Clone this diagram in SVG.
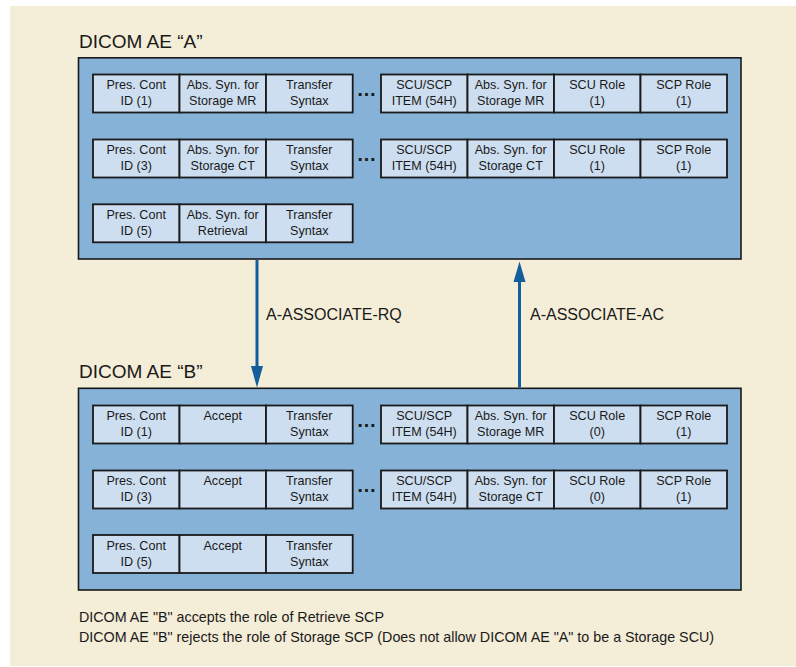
<svg xmlns="http://www.w3.org/2000/svg" width="796" height="667" viewBox="0 0 796 667">
<style>
text{font-family:"Liberation Sans",Arial,Helvetica,sans-serif;fill:#1a1a1a}
.bg{fill:#F4EDD7}
.box{fill:#86B2D8;stroke:#1a1a1a;stroke-width:1.6}
.cell{fill:#CDDEF0;stroke:#1a1a1a;stroke-width:1.8}
.ct{font-size:12.6px;text-anchor:middle}
.title{font-size:19px}
.lbl{font-size:16px}
.foot{font-size:14.3px}
.dots{font-size:20px;font-weight:bold;text-anchor:middle}
.arr{stroke:#155E9C;stroke-width:3;fill:none}
.ah{fill:#155E9C}
</style>
<rect class="bg" x="10" y="6" width="786" height="660"/>

<g id="ae-a">
<text class="title" x="79" y="47.5">DICOM AE “A”</text>
<rect class="box" x="78.5" y="57.8" width="662.5" height="201.2"/>
</g>
<g id="a-row1">
<rect class="cell" x="93" y="74.5" width="86.5" height="38"/>
<rect class="cell" x="179.5" y="74.5" width="86.5" height="38"/>
<rect class="cell" x="266" y="74.5" width="86.7" height="38"/>
<text class="ct" x="136.2" y="89">Pres. Cont</text><text class="ct" x="136.2" y="105">ID (1)</text>
<text class="ct" x="222.7" y="89">Abs. Syn. for</text><text class="ct" x="222.7" y="105">Storage MR</text>
<text class="ct" x="309.3" y="89">Transfer</text><text class="ct" x="309.3" y="105">Syntax</text>
<text class="dots" x="366.5" y="95.5">…</text>
<rect class="cell" x="381" y="74.5" width="86.5" height="38"/>
<rect class="cell" x="467.5" y="74.5" width="86.5" height="38"/>
<rect class="cell" x="554" y="74.5" width="86.5" height="38"/>
<rect class="cell" x="640.5" y="74.5" width="86.5" height="38"/>
<text class="ct" x="424.2" y="89">SCU/SCP</text><text class="ct" x="424.2" y="105">ITEM (54H)</text>
<text class="ct" x="510.7" y="89">Abs. Syn. for</text><text class="ct" x="510.7" y="105">Storage MR</text>
<text class="ct" x="597.2" y="89">SCU Role</text><text class="ct" x="597.2" y="105">(1)</text>
<text class="ct" x="683.7" y="89">SCP Role</text><text class="ct" x="683.7" y="105">(1)</text>
</g>
<g id="a-row2">
<rect class="cell" x="93" y="139.5" width="86.5" height="38"/>
<rect class="cell" x="179.5" y="139.5" width="86.5" height="38"/>
<rect class="cell" x="266" y="139.5" width="86.7" height="38"/>
<text class="ct" x="136.2" y="154">Pres. Cont</text><text class="ct" x="136.2" y="170">ID (3)</text>
<text class="ct" x="222.7" y="154">Abs. Syn. for</text><text class="ct" x="222.7" y="170">Storage CT</text>
<text class="ct" x="309.3" y="154">Transfer</text><text class="ct" x="309.3" y="170">Syntax</text>
<text class="dots" x="366.5" y="160.5">…</text>
<rect class="cell" x="381" y="139.5" width="86.5" height="38"/>
<rect class="cell" x="467.5" y="139.5" width="86.5" height="38"/>
<rect class="cell" x="554" y="139.5" width="86.5" height="38"/>
<rect class="cell" x="640.5" y="139.5" width="86.5" height="38"/>
<text class="ct" x="424.2" y="154">SCU/SCP</text><text class="ct" x="424.2" y="170">ITEM (54H)</text>
<text class="ct" x="510.7" y="154">Abs. Syn. for</text><text class="ct" x="510.7" y="170">Storage CT</text>
<text class="ct" x="597.2" y="154">SCU Role</text><text class="ct" x="597.2" y="170">(1)</text>
<text class="ct" x="683.7" y="154">SCP Role</text><text class="ct" x="683.7" y="170">(1)</text>
</g>
<g id="a-row3">
<rect class="cell" x="93" y="204.3" width="86.5" height="38"/>
<rect class="cell" x="179.5" y="204.3" width="86.5" height="38"/>
<rect class="cell" x="266" y="204.3" width="86.7" height="38"/>
<text class="ct" x="136.2" y="218.8">Pres. Cont</text><text class="ct" x="136.2" y="234.8">ID (5)</text>
<text class="ct" x="222.7" y="218.8">Abs. Syn. for</text><text class="ct" x="222.7" y="234.8">Retrieval</text>
<text class="ct" x="309.3" y="218.8">Transfer</text><text class="ct" x="309.3" y="234.8">Syntax</text>
</g>

<g id="ae-b">
<text class="title" x="79" y="378">DICOM AE “B”</text>
<rect class="box" x="78.5" y="388.3" width="662.5" height="201.7"/>
</g>
<g id="b-row1">
<rect class="cell" x="93" y="405.5" width="86.5" height="38"/>
<rect class="cell" x="179.5" y="405.5" width="86.5" height="38"/>
<rect class="cell" x="266" y="405.5" width="86.7" height="38"/>
<text class="ct" x="136.2" y="420">Pres. Cont</text><text class="ct" x="136.2" y="436">ID (1)</text>
<text class="ct" x="222.7" y="420">Accept</text>
<text class="ct" x="309.3" y="420">Transfer</text><text class="ct" x="309.3" y="436">Syntax</text>
<text class="dots" x="366.5" y="426.5">…</text>
<rect class="cell" x="381" y="405.5" width="86.5" height="38"/>
<rect class="cell" x="467.5" y="405.5" width="86.5" height="38"/>
<rect class="cell" x="554" y="405.5" width="86.5" height="38"/>
<rect class="cell" x="640.5" y="405.5" width="86.5" height="38"/>
<text class="ct" x="424.2" y="420">SCU/SCP</text><text class="ct" x="424.2" y="436">ITEM (54H)</text>
<text class="ct" x="510.7" y="420">Abs. Syn. for</text><text class="ct" x="510.7" y="436">Storage MR</text>
<text class="ct" x="597.2" y="420">SCU Role</text><text class="ct" x="597.2" y="436">(0)</text>
<text class="ct" x="683.7" y="420">SCP Role</text><text class="ct" x="683.7" y="436">(1)</text>
</g>
<g id="b-row2">
<rect class="cell" x="93" y="470.5" width="86.5" height="38"/>
<rect class="cell" x="179.5" y="470.5" width="86.5" height="38"/>
<rect class="cell" x="266" y="470.5" width="86.7" height="38"/>
<text class="ct" x="136.2" y="485">Pres. Cont</text><text class="ct" x="136.2" y="501">ID (3)</text>
<text class="ct" x="222.7" y="485">Accept</text>
<text class="ct" x="309.3" y="485">Transfer</text><text class="ct" x="309.3" y="501">Syntax</text>
<text class="dots" x="366.5" y="491.5">…</text>
<rect class="cell" x="381" y="470.5" width="86.5" height="38"/>
<rect class="cell" x="467.5" y="470.5" width="86.5" height="38"/>
<rect class="cell" x="554" y="470.5" width="86.5" height="38"/>
<rect class="cell" x="640.5" y="470.5" width="86.5" height="38"/>
<text class="ct" x="424.2" y="485">SCU/SCP</text><text class="ct" x="424.2" y="501">ITEM (54H)</text>
<text class="ct" x="510.7" y="485">Abs. Syn. for</text><text class="ct" x="510.7" y="501">Storage CT</text>
<text class="ct" x="597.2" y="485">SCU Role</text><text class="ct" x="597.2" y="501">(0)</text>
<text class="ct" x="683.7" y="485">SCP Role</text><text class="ct" x="683.7" y="501">(1)</text>
</g>
<g id="b-row3">
<rect class="cell" x="93" y="535" width="86.5" height="38"/>
<rect class="cell" x="179.5" y="535" width="86.5" height="38"/>
<rect class="cell" x="266" y="535" width="86.7" height="38"/>
<text class="ct" x="136.2" y="549.5">Pres. Cont</text><text class="ct" x="136.2" y="565.5">ID (5)</text>
<text class="ct" x="222.7" y="549.5">Accept</text>
<text class="ct" x="309.3" y="549.5">Transfer</text><text class="ct" x="309.3" y="565.5">Syntax</text>
</g>

<g id="connectors">
<line class="arr" x1="257" y1="259.8" x2="257" y2="368"/>
<polygon class="ah" points="251,366 263,366 257,387.5"/>
<text class="lbl" x="266" y="320">A-ASSOCIATE-RQ</text>
<line class="arr" x1="519.5" y1="387.5" x2="519.5" y2="280"/>
<polygon class="ah" points="513.5,282 525.5,282 519.5,261.5"/>
<text class="lbl" x="530" y="320">A-ASSOCIATE-AC</text>
</g>

<g id="notes">
<text class="foot" x="79" y="621.5">DICOM AE "B" accepts the role of Retrieve SCP</text>
<text class="foot" x="79" y="641.5">DICOM AE "B" rejects the role of Storage SCP (Does not allow DICOM AE "A" to be a Storage SCU)</text>
</g>
</svg>
